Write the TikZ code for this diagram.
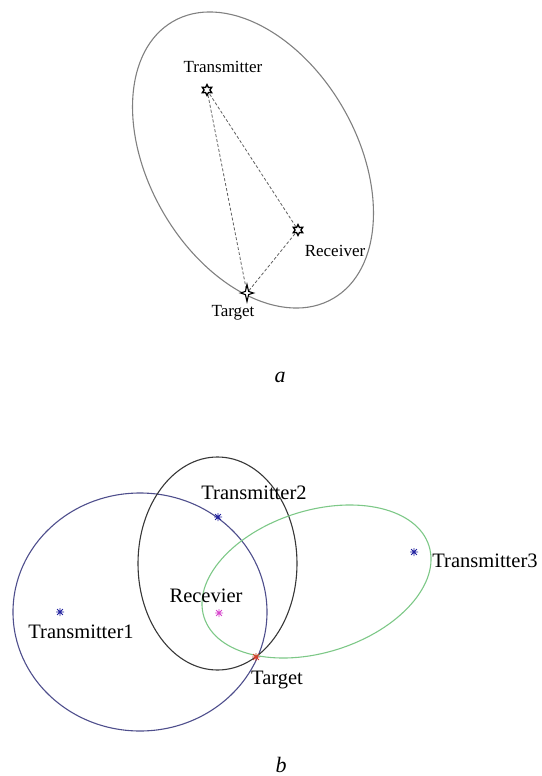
\documentclass[tikz,border=0pt]{standalone}
\usepackage{fontspec}
\setmainfont{Liberation Serif}
\usetikzlibrary{shapes.geometric}
\definecolor{rimgray}{RGB}{128,128,128}
\definecolor{dashgray}{RGB}{95,95,95}
\definecolor{tonebl}{RGB}{78,78,140}
\definecolor{toneblk}{RGB}{55,55,55}
\definecolor{tonegr}{RGB}{125,200,135}
\definecolor{markbl}{RGB}{35,35,160}
\definecolor{markmg}{RGB}{215,70,205}
\definecolor{markrd}{RGB}{220,60,40}
\begin{document}
\begin{tikzpicture}[x=1pt,y=-1pt,
  lbla/.style={inner sep=0pt, font=\fontsize{17}{20}\selectfont},
  lblb/.style={inner sep=0pt, font=\fontsize{20.5}{24}\selectfont},
  capt/.style={inner sep=0pt, font=\fontsize{22}{26}\selectfont\itshape},
  hexstar/.style={star, star points=6, star point ratio=1.9, minimum size=11pt,
    inner sep=0pt, draw=black, line width=1.3pt, fill=white},
  rangeline/.style={dash pattern=on 3pt off 2pt, line width=0.8pt, draw=dashgray},
  orbit/.style={line width=1.1pt},
  astr/.pic={\draw[line width=0.75pt]
      (-4,0) -- (4,0) (0,-4) -- (0,4)
      (-2.9,-2.9) -- (2.9,2.9) (-2.9,2.9) -- (2.9,-2.9);}
]
\useasboundingbox (0,0) rectangle (541,776);

% ---------- a: bistatic geometry ----------
\draw[orbit, draw=rimgray] (253,160) ellipse [x radius=104, y radius=160, rotate=30];

\coordinate (tx) at (207,90);
\coordinate (rx) at (298,230);
\coordinate (tg) at (247,293);

\draw[rangeline] (tx) -- (tg);
\draw[rangeline] (tx) -- (rx);
\draw[rangeline] (rx) -- (tg);

\node[hexstar] (txmark) at (tx) {};
\node[hexstar] (rxmark) at (rx) {};
\draw[line width=1.1pt, fill=white, shift={(tg)}]
  (0,-8.5) -- (1.6,-1.6) -- (6.5,0) -- (1.6,1.6) -- (0,8.5)
  -- (-1.6,1.6) -- (-6.5,0) -- (-1.6,-1.6) -- cycle;

\node[lbla] (txlbl) at (223,67) {Transmitter};
\node[lbla] (rxlbl) at (335,251) {Receiver};
\node[lbla] (tglbl) at (233,313) {Target};

\node[capt] (capa) at (280,377) {a};

% ---------- b: multistatic geometry ----------
\draw[orbit, draw=tonebl] (140,612) ellipse [x radius=127, y radius=119];
\draw[orbit, draw=toneblk] (217.5,563.5) ellipse [x radius=79.5, y radius=106.5];
\draw[orbit, draw=tonegr] (316.5,581.5) ellipse [x radius=118, y radius=71, rotate=17.6];

\coordinate (t1) at (60,612);
\coordinate (t2) at (218,517);
\coordinate (t3) at (414,552);
\coordinate (rc) at (219,613);
\coordinate (tt) at (256,657);

\pic[markbl] at (t1) {astr};
\pic[markbl] at (t2) {astr};
\pic[markbl] at (t3) {astr};
\pic[markmg] at (rc) {astr};
\pic[markrd] at (tt) {astr};

\node[lblb] (t1lbl) at (81,632) {Transmitter1};
\node[lblb] (t2lbl) at (254,493) {Transmitter2};
\node[lblb] (t3lbl) at (485,561) {Transmitter3};
\node[lblb] (rclbl) at (206,596) {Recevier};
\node[lblb] (ttlbl) at (277,680) {Target};

\node[capt] (capb) at (281,765) {b};
\end{tikzpicture}
\end{document}
